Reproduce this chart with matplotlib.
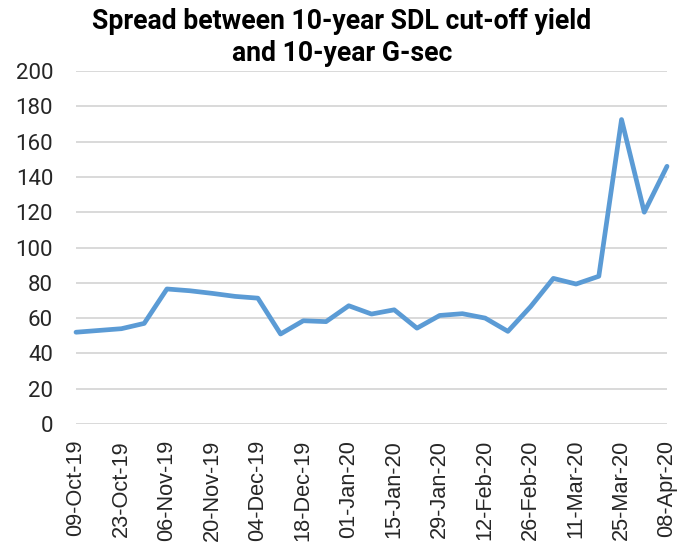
import matplotlib
matplotlib.use("Agg")
import matplotlib.pyplot as plt

# Weekly auction dates (every Wednesday) and spread in basis points
dates = ["09-Oct-19", "16-Oct-19", "23-Oct-19", "30-Oct-19", "06-Nov-19",
         "13-Nov-19", "20-Nov-19", "27-Nov-19", "04-Dec-19", "11-Dec-19",
         "18-Dec-19", "25-Dec-19", "01-Jan-20", "08-Jan-20", "15-Jan-20",
         "22-Jan-20", "29-Jan-20", "05-Feb-20", "12-Feb-20", "19-Feb-20",
         "26-Feb-20", "04-Mar-20", "11-Mar-20", "18-Mar-20", "25-Mar-20",
         "01-Apr-20", "08-Apr-20"]
spread = [52, 53, 54, 57, 76.5, 75.5, 74, 72.3, 71.3, 51, 58.5, 58,
          67, 62.3, 64.7, 54.3, 61.5, 62.5, 60, 52.5, 66.5, 82.5, 79.3,
          83.7, 172.5, 120, 146]
y_ticks = [0, 20, 40, 60, 80, 100, 120, 140, 160, 180, 200]
title_lines = ["Spread between 10-year SDL cut-off yield", "and 10-year G-sec"]

W, H = 691, 542
fig = plt.figure(figsize=(W / 100, H / 100), dpi=100)
ax = fig.add_axes([76 / W, (H - 424) / H, (667 - 76) / W, (424 - 71) / H])

x = list(range(len(dates)))
ax.plot(x, spread, color="#5B9BD5", linewidth=3.4, clip_on=False,
        solid_capstyle="round", solid_joinstyle="round", zorder=3)

ax.set_xlim(0, len(dates) - 1)
ax.set_ylim(0, 200)
ax.set_yticks(y_ticks)
ax.set_yticklabels([str(v) for v in y_ticks], fontfamily="Roboto", fontsize=16,
                   color="#262626")
ax.set_xticks(x[::2])
ax.set_xticklabels(dates[::2], rotation=90, fontfamily="Liberation Sans",
                   fontsize=15.7, color="#262626", va="top", ha="center")

ax.tick_params(axis="y", length=0, pad=16.5)
ax.tick_params(axis="x", length=0, pad=11.5)
ax.grid(axis="y", color="#D9D9D9", linewidth=1.4, zorder=0)
ax.set_axisbelow(True)
for s in ax.spines.values():
    s.set_visible(False)

# Title: two centred bold lines, first line fitted to the target width
cx = 342 / W
t1 = fig.text(cx, 1 - 29 / H, title_lines[0], ha="center", va="baseline",
              fontfamily="Roboto", fontweight="bold", fontsize=18, color="#000000")
fig.canvas.draw()
wpx = t1.get_window_extent().width
size = 18 * 500 / wpx
t1.set_fontsize(size)
fig.text(cx, 1 - 61 / H, title_lines[1], ha="center", va="baseline",
         fontfamily="Roboto", fontweight="bold", fontsize=size, color="#000000")

fig.savefig("out.png", dpi=100)
